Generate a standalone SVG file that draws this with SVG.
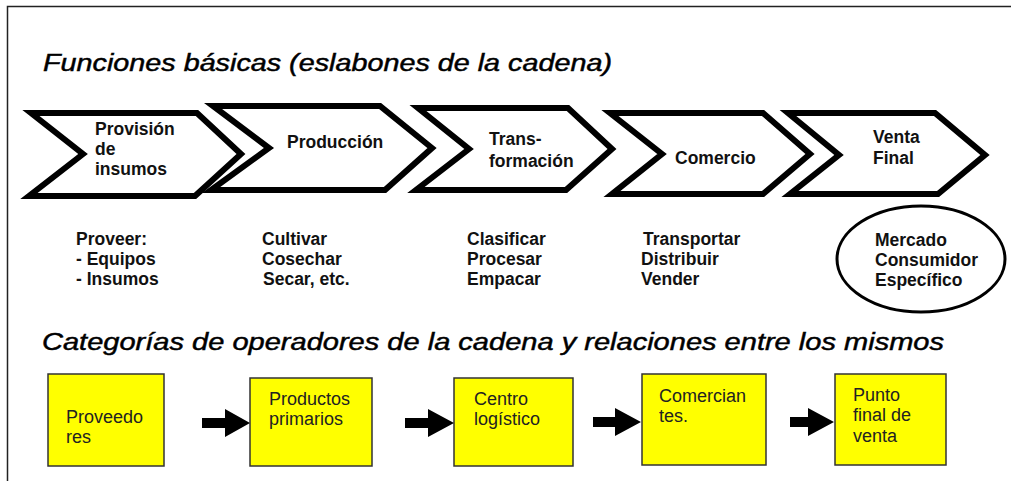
<svg xmlns="http://www.w3.org/2000/svg" width="1011" height="481" viewBox="0 0 1011 481">
<defs>
<style>
.frame{stroke:#222;stroke-width:1.5;fill:none}
.title{font-family:"Liberation Sans",Arial,sans-serif;font-style:italic;font-size:23.5px;fill:#000;stroke:#000;stroke-width:0.45}
.chev{fill:#fff;stroke:#000;stroke-width:6;stroke-linejoin:miter}
.cl{font-family:"Liberation Sans",Arial,sans-serif;font-weight:bold;font-size:17.5px;fill:#111}
.li{font-family:"Liberation Sans",Arial,sans-serif;font-weight:bold;font-size:17.5px;fill:#111}
.box{fill:#ffff00;stroke:#333;stroke-width:1.5}
.bt{font-family:"Liberation Sans",Arial,sans-serif;font-size:18px;fill:#222}
.arr{fill:#000}
</style>
</defs>
<rect width="1011" height="481" fill="#fff"/>
<path class="frame" d="M7.5,481 V6.5 H1011"/>
<text class="title" x="43" y="71" textLength="569" lengthAdjust="spacingAndGlyphs">Funciones básicas (eslabones de la cadena)</text>
<text class="title" x="42" y="350" textLength="902" lengthAdjust="spacingAndGlyphs">Categorías de operadores de la cadena y relaciones entre los mismos</text>

<g id="chev1">
<polygon class="chev" points="31,113 197,113 241,154 195,196 29,196 83,154"/>
<text class="cl" x="95" y="135">Provisión</text>
<text class="cl" x="95" y="155">de</text>
<text class="cl" x="95" y="175">insumos</text>
</g>
<g id="chev2">
<polygon class="chev" points="213,106 380,106 432,148 385,190 211,190 269,148"/>
<text class="cl" x="287" y="148">Producción</text>
</g>
<g id="chev3">
<polygon class="chev" points="418,108 568,108 612,149 566,190 416,190 469,149"/>
<text class="cl" x="489" y="145">Trans-</text>
<text class="cl" x="489" y="167">formación</text>
</g>
<g id="chev4">
<polygon class="chev" points="610,113 763,113 810,154 763,194 612,194 662,154"/>
<text class="cl" x="675" y="164">Comercio</text>
</g>
<g id="chev5">
<polygon class="chev" points="788,113 935,113 985,155 938,194 790,194 839,155"/>
<text class="cl" x="873" y="143">Venta</text>
<text class="cl" x="873" y="164">Final</text>
</g>

<g id="list1">
<text class="li" x="76" y="245">Proveer:</text>
<text class="li" x="76" y="265">- Equipos</text>
<text class="li" x="76" y="285">- Insumos</text>
</g>
<g id="list2">
<text class="li" x="262" y="245">Cultivar</text>
<text class="li" x="262" y="265">Cosechar</text>
<text class="li" x="263" y="285">Secar, etc.</text>
</g>
<g id="list3">
<text class="li" x="467" y="245">Clasificar</text>
<text class="li" x="467" y="265">Procesar</text>
<text class="li" x="467" y="285">Empacar</text>
</g>
<g id="list4">
<text class="li" x="643" y="245">Transportar</text>
<text class="li" x="641" y="265">Distribuir</text>
<text class="li" x="641" y="285">Vender</text>
</g>
<g id="mercado">
<ellipse cx="921" cy="259" rx="84" ry="53" fill="#fff" stroke="#000" stroke-width="3"/>
<text class="li" x="875" y="246">Mercado</text>
<text class="li" x="875" y="266">Consumidor</text>
<text class="li" x="875" y="286">Específico</text>
</g>

<g id="box1">
<rect class="box" x="48" y="374" width="116" height="92"/>
<text class="bt" x="66" y="423">Proveedo</text>
<text class="bt" x="66" y="443">res</text>
</g>
<g id="box2">
<rect class="box" x="250" y="378" width="122" height="88"/>
<text class="bt" x="269" y="405">Productos</text>
<text class="bt" x="269" y="425">primarios</text>
</g>
<g id="box3">
<rect class="box" x="454" y="378" width="119" height="88"/>
<text class="bt" x="474" y="405">Centro</text>
<text class="bt" x="474" y="425">logístico</text>
</g>
<g id="box4">
<rect class="box" x="642" y="374" width="124" height="91"/>
<text class="bt" x="659" y="402">Comercian</text>
<text class="bt" x="659" y="422">tes.</text>
</g>
<g id="box5">
<rect class="box" x="835" y="374" width="111" height="91"/>
<text class="bt" x="853" y="401">Punto</text>
<text class="bt" x="853" y="421">final de</text>
<text class="bt" x="853" y="442">venta</text>
</g>

<g id="connectors">
<polygon class="arr" points="202,418 225,418 225,409 250,423 225,437 225,428 202,428"/>
<polygon class="arr" points="405,418 428,418 428,409 454,423 428,437 428,428 405,428"/>
<polygon class="arr" points="593,417 615,417 615,408 641,422 615,436 615,427 593,427"/>
<polygon class="arr" points="790,417 808,417 808,408 834,422 808,436 808,427 790,427"/>
</g>
</svg>
